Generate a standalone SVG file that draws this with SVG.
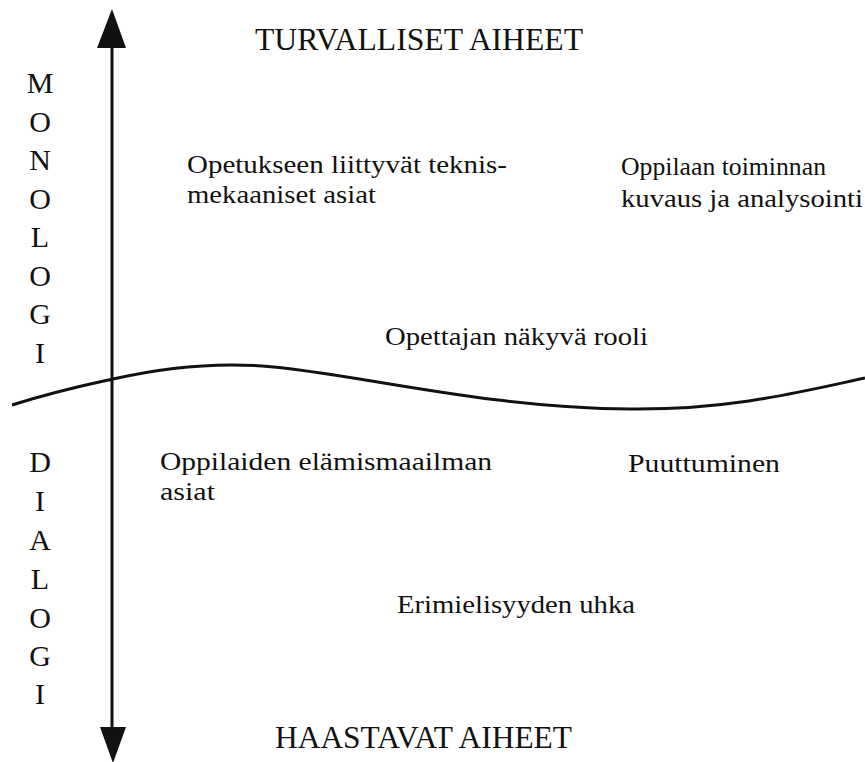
<svg xmlns="http://www.w3.org/2000/svg" width="865" height="762" viewBox="0 0 865 762">
<style>
text{font-family:"Liberation Serif","Times New Roman",serif;fill:#111}
.cap{font-size:31px}
.v{font-size:30px;text-anchor:middle}
.b{font-size:25px}
.ln{fill:none;stroke:#111;stroke-width:3}
</style>
<rect width="865" height="762" fill="#fff"/>
<g id="connectors">
<line class="ln" x1="112" y1="40" x2="112" y2="735"/>
<polygon points="112,9 97,48 126,48" fill="#111"/>
<polygon points="113,763 100,727 126,727" fill="#111"/>
<path class="ln" d="M12,405 C60,390 95,383 113,379 C170,366 220,363 262,366 C350,372 480,408 630,409 C730,410 800,392 865,378"/>
</g>
<g id="top-label"><text class="cap" x="255" y="50" textLength="328" lengthAdjust="spacingAndGlyphs">TURVALLISET AIHEET</text></g>
<g id="bottom-label"><text class="cap" x="275" y="748" textLength="297" lengthAdjust="spacingAndGlyphs">HAASTAVAT AIHEET</text></g>
<g id="monologi">
<text class="v" x="40" y="93">M</text>
<text class="v" x="40" y="131.5">O</text>
<text class="v" x="40" y="170">N</text>
<text class="v" x="40" y="208.5">O</text>
<text class="v" x="40" y="247">L</text>
<text class="v" x="40" y="285.5">O</text>
<text class="v" x="40" y="324">G</text>
<text class="v" x="40" y="362.5">I</text>
</g>
<g id="dialogi">
<text class="v" x="40" y="472">D</text>
<text class="v" x="40" y="511">I</text>
<text class="v" x="40" y="550">A</text>
<text class="v" x="40" y="589">L</text>
<text class="v" x="40" y="628">O</text>
<text class="v" x="40" y="666">G</text>
<text class="v" x="40" y="704">I</text>
</g>
<g id="node-teknis">
<text class="b" x="187" y="173" textLength="320" lengthAdjust="spacingAndGlyphs">Opetukseen liittyvät teknis-</text>
<text class="b" x="187" y="203" textLength="189" lengthAdjust="spacingAndGlyphs">mekaaniset asiat</text>
</g>
<g id="node-oppilaan">
<text class="b" x="621" y="175" textLength="205" lengthAdjust="spacingAndGlyphs">Oppilaan toiminnan</text>
<text class="b" x="621" y="207" textLength="242" lengthAdjust="spacingAndGlyphs">kuvaus ja analysointi</text>
</g>
<g id="node-rooli"><text class="b" x="385" y="345" textLength="263" lengthAdjust="spacingAndGlyphs">Opettajan näkyvä rooli</text></g>
<g id="node-elamis">
<text class="b" x="160" y="470" textLength="332" lengthAdjust="spacingAndGlyphs">Oppilaiden elämismaailman</text>
<text class="b" x="160" y="500" textLength="55" lengthAdjust="spacingAndGlyphs">asiat</text>
</g>
<g id="node-puuttuminen"><text class="b" x="628" y="472" textLength="152" lengthAdjust="spacingAndGlyphs">Puuttuminen</text></g>
<g id="node-erimielisyys"><text class="b" x="397" y="613" textLength="238" lengthAdjust="spacingAndGlyphs">Erimielisyyden uhka</text></g>
</svg>
